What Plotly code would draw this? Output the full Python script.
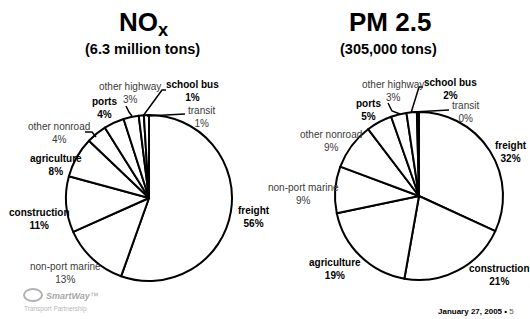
import plotly.graph_objects as go

W, H = 530, 319
FONT = "Liberation Sans, Arial, sans-serif"

# ---------------- data ----------------
nox_labels = ["freight", "non-port marine", "construction", "agriculture",
              "other nonroad", "ports", "other highway", "school bus", "transit"]
nox_values = [56, 13, 11, 8, 4, 4, 3, 1, 1]

pm_labels = ["freight", "construction", "agriculture", "non-port marine",
             "other nonroad", "ports", "other highway", "school bus", "transit"]
pm_values = [32, 21, 19, 9, 9, 5, 3, 2, 0.4]

bold_labels = {"freight", "construction", "agriculture", "ports", "school bus"}

nox_title = "NO<sub>x</sub>"
nox_subtitle = "(6.3 million tons)"
pm_title = "PM 2.5"
pm_subtitle = "(305,000 tons)"
footer_date = "January 27, 2005"
footer_page = "5"

# ---------------- layout helpers (pixel -> paper) ----------------
def px(x, y):
    return x / W, 1 - y / H

def domain(cx, cy, r):
    return dict(x=[(cx - r) / W, (cx + r) / W], y=[1 - (cy + r) / H, 1 - (cy - r) / H])

# label centres (pixels), same order as the label lists
nox_label_pos = [(254, 217), (65, 272.5), (39, 218.5), (56, 164.5), (59, 132.5),
                 (104, 108.5), (130, 93), (192, 91), (201, 116.5)]
pm_label_pos = [(511, 151.5), (499, 274.5), (335, 269), (303, 193.5), (331, 141),
                (368, 110), (393, 90.5), (450, 89), (465, 112)]

# leader lines (pixels)
leaders = [
    [(126, 106), (129, 112), (132, 116)],
    [(166, 90), (162, 90), (143, 116)],
    [(147, 116), (185, 114)],
    [(85, 132), (92, 132), (96, 137)],
    [(388, 103), (392, 111), (400, 114)],
    [(423, 87), (419, 87), (411, 113)],
    [(413, 112), (449, 110)],
]

fig = go.Figure()

pie_style = dict(sort=False, direction="clockwise", rotation=0, textinfo="none",
                 hoverinfo="label+percent", showlegend=False)

fig.add_trace(go.Pie(labels=nox_labels, values=nox_values,
                     domain=domain(149, 198, 83),
                     marker=dict(colors=["white"] * len(nox_values),
                                 line=dict(color="black", width=2)),
                     **pie_style))
fig.add_trace(go.Pie(labels=pm_labels, values=pm_values,
                     domain=domain(419, 196, 84),
                     marker=dict(colors=["white"] * len(pm_values),
                                 line=dict(color="black", width=2)),
                     **pie_style))

annotations = []

def add_text(x, y, text, size, color="black", xanchor="center", yanchor="middle"):
    ax_, ay_ = px(x, y)
    annotations.append(dict(x=ax_, y=ay_, xref="paper", yref="paper", text=text,
                            showarrow=False, xanchor=xanchor, yanchor=yanchor,
                            font=dict(family=FONT, size=size, color=color)))

def fmt(v):
    return f"{round(v)}%"

for labels, values, positions in [(nox_labels, nox_values, nox_label_pos),
                                  (pm_labels, pm_values, pm_label_pos)]:
    for lab, val, (x, y) in zip(labels, values, positions):
        if lab in bold_labels:
            add_text(x, y, f"<b>{lab}<br>{fmt(val)}</b>", 10, "black")
        else:
            add_text(x, y, f"{lab}<br>{fmt(val)}", 10, "#3a3a3a")

# titles
add_text(143, 24, f"<b>{nox_title}</b>", 26)
add_text(142, 49, f"<b>{nox_subtitle}</b>", 14.5)
add_text(390, 22, f"<b>{pm_title}</b>", 26)
add_text(388, 49, f"<b>{pm_subtitle}</b>", 14.5)

# footer
add_text(516, 311, f"<b>{footer_date} \u2022</b> <span style='color:#555'>{footer_page}</span>", 8,
         xanchor="right")

# logo (approximation as text)
add_text(44, 296, "<i><b>SmartWay</b></i>\u2122", 9, "#a8a8a8", xanchor="left")
add_text(22, 309, "Transport Partnership", 6.5, "#b8b8b8", xanchor="left")

shapes = []
for pts in leaders:
    path = "M " + " L ".join(f"{px(x, y)[0]:.5f},{px(x, y)[1]:.5f}" for x, y in pts)
    shapes.append(dict(type="path", xref="paper", yref="paper", path=path,
                       line=dict(color="black", width=1.5)))
# logo swoosh
sx0, sy0 = px(24, 289)
sx1, sy1 = px(42, 301)
shapes.append(dict(type="circle", xref="paper", yref="paper", x0=sx0, y0=sy1, x1=sx1, y1=sy0,
                   line=dict(color="#b0b0b0", width=2)))

fig.update_layout(width=W, height=H, margin=dict(l=0, r=0, t=0, b=0),
                  paper_bgcolor="white", plot_bgcolor="white",
                  annotations=annotations, shapes=shapes,
                  font=dict(family=FONT))

fig.write_html("out.html", config={"displayModeBar": False},
               post_script="document.body.style.margin='0';document.body.style.padding='0';")
